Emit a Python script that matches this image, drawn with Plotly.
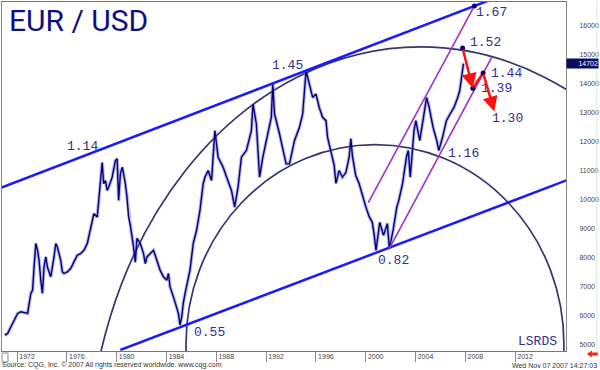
import plotly.graph_objects as go

# ---------------- data ----------------
years = [1971.02, 1971.25, 1971.51, 1971.78, 1972.05, 1972.31, 1972.58, 1972.85, 1973.11, 1973.25,
         1973.37, 1973.51, 1973.65, 1973.77, 1973.91, 1974.04, 1974.17, 1974.31, 1974.44, 1974.71,
         1974.97, 1975.11, 1975.24, 1975.37, 1975.51, 1975.64, 1975.77, 1976.04, 1976.31, 1976.57,
         1976.84, 1977.10, 1977.37, 1977.64, 1977.90, 1978.04, 1978.17, 1978.44, 1978.57, 1978.70,
         1978.84, 1978.96, 1979.10, 1979.24, 1979.36, 1979.64, 1979.90, 1980.04, 1980.16, 1980.30,
         1980.46, 1980.70, 1980.83, 1980.96, 1981.10, 1981.36, 1981.50, 1981.63, 1981.90, 1982.16,
         1982.30, 1982.43, 1982.70, 1982.96, 1983.23, 1983.49, 1983.76, 1984.03, 1984.16, 1984.29,
         1984.56, 1984.83, 1984.96, 1985.09, 1985.23, 1985.35, 1985.49, 1985.89, 1986.15, 1986.42,
         1986.69, 1986.95, 1987.09, 1987.35, 1987.62, 1987.89, 1988.15, 1988.55, 1988.82, 1989.22,
         1989.48, 1989.75, 1990.02, 1990.42, 1990.82, 1990.95, 1991.22, 1991.48, 1991.74, 1992.02,
         1992.42, 1992.54, 1992.68, 1993.08, 1993.34, 1993.61, 1993.88, 1994.28, 1994.68, 1994.94,
         1995.21, 1995.47, 1995.74, 1996.01, 1996.27, 1996.54, 1996.81, 1996.94, 1997.21, 1997.47,
         1997.61, 1997.87, 1998.13, 1998.41, 1998.67, 1998.81, 1998.93, 1999.20, 1999.47, 1999.73,
         2000.00, 2000.27, 2000.53, 2000.67, 2000.83, 2001.13, 2001.43, 2001.74, 2001.90, 2002.20,
         2002.50, 2002.66, 2002.96, 2003.27, 2003.42, 2003.58, 2003.88, 2004.03, 2004.34, 2004.64,
         2004.89, 2005.10, 2005.41, 2005.71, 2005.87, 2006.17, 2006.48, 2006.78, 2007.09, 2007.39,
         2007.55, 2007.70, 2007.85]
eurusd = [5340, 5400, 5630, 5860, 6090, 6145, 6110, 6090, 6780, 6890,
          7690, 8500, 8265, 7920, 7235, 6780, 7690, 8035, 7690, 7350,
          8035, 8495, 8380, 8150, 7920, 7520, 7465, 7520, 7635, 7865,
          8095, 8150, 8265, 8495, 9065, 9295, 9525, 9410, 9985, 10440,
          11290, 10560, 10670, 10330, 10440, 10785, 11360, 11420, 9985, 10900,
          11130, 10560, 10100, 9410, 9125, 8380, 7855, 8680, 8495, 8150,
          7810, 8035, 8150, 8265, 7920, 7580, 7350, 7235, 7465, 7005,
          6660, 6315, 6090, 5690, 5975, 6435, 6775, 7580, 8495, 8955,
          9640, 10560, 10785, 11015, 10670, 12390, 11475, 11130, 10785, 10330,
          9755, 10440, 11475, 11705, 12390, 13310, 12620, 10785, 11475, 12045,
          12850, 13995, 12965, 12275, 11705, 11245, 11245, 12045, 12505, 12965,
          14455, 13995, 13535, 13650, 13190, 12850, 12735, 12160, 11705, 11190,
          10570, 11015, 10785, 10945, 11475, 12115, 11530, 10845, 10570, 10155,
          9780, 9435, 9230, 8840, 8265, 9230, 8780, 9185, 8335, 8955,
          9755, 9985, 10560, 11475, 11705, 10785, 12390, 12735, 12045, 12850,
          13535, 13190, 12505, 12045, 11705, 12160, 12735, 12965, 13190, 13535,
          13765, 14225, 14702]
last_price = 14702

x_ticks = [1972, 1976, 1980, 1984, 1988, 1992, 1996, 2000, 2004, 2008, 2012]
x_ticklabels = ["1972", "1976", "1980", "1984", "1988", "1992", "1996", "2000", "2004", "2008", "2012"]
y_ticks = [5000, 6000, 7000, 8000, 9000, 10000, 11000, 12000, 13000, 14000, 15000, 16000]
y_ticklabels = ["5000", "6000", "7000", "8000", "9000", "10000", "11000", "12000", "13000", "14000", "15000", "16000"]

# trend channel (blue), acceleration channel (purple)
upper_trend_t = [1970.70, 2010.00]
upper_trend_v = [10419, 16897]
lower_trend_t = [1980.30, 2016.20]
lower_trend_v = [4830, 10690]
purple_upper_t = [2000.21, 2008.73]
purple_upper_v = [9905, 16688]
purple_lower_t = [2001.90, 2010.11]
purple_lower_v = [8324, 14911]

# arcs: bounding boxes (time, value) of the two ellipses
outer_arc_t = [1977.66, 2031.18]
outer_arc_v = [-13941, 15278]
inner_arc_t = [1985.57, 2015.92]
inner_arc_v = [-1841, 11910]

# projected path (red) and marked points
forecast_t = [2007.78, 2008.60, 2009.43, 2010.33]
forecast_v = [15240, 13850, 14380, 13050]
dots_t = [2008.73, 2007.78, 2008.60, 2009.43]
dots_v = [16688, 15240, 13850, 14380]

level_labels = ["1.67", "1.52", "1.44", "1.39", "1.30", "1.45", "1.14", "1.16", "0.82", "0.55", "LSRDS"]
level_t = [2008.81, 2008.31, 2009.99, 2009.19, 2010.09, 1992.42, 1975.91, 2006.52, 2000.93, 1986.11, 2012.19]
level_v = [16447, 15426, 14374, 13845, 12793, 14625, 11858, 11611, 7905, 5430, 5113]

x_range = [1970.794, 2016.086]
y_range = [4793.7, 16825.3]

NAVY = "#000080"
LABEL = "#30308a"

fig = go.Figure()

# price halo + line
fig.add_trace(go.Scatter(x=years, y=eurusd, mode="lines",
                         line=dict(color="rgba(95,95,175,0.45)", width=3.5),
                         hoverinfo="skip", showlegend=False))
fig.add_trace(go.Scatter(x=years, y=eurusd, mode="lines",
                         line=dict(color=NAVY, width=1.4), showlegend=False))

# channels
for t, v, c, w in [(upper_trend_t, upper_trend_v, "#1a1aff", 2.5),
                   (lower_trend_t, lower_trend_v, "#1a1aff", 2.5),
                   (purple_upper_t, purple_upper_v, "#a030c8", 1.6),
                   (purple_lower_t, purple_lower_v, "#a030c8", 1.6)]:
    fig.add_trace(go.Scatter(x=t, y=v, mode="lines", line=dict(color=c, width=w),
                             hoverinfo="skip", showlegend=False))

# red middle leg of projection
fig.add_trace(go.Scatter(x=forecast_t[1:3], y=forecast_v[1:3], mode="lines",
                         line=dict(color="#ff1010", width=2.5), showlegend=False))

# dots
fig.add_trace(go.Scatter(x=dots_t, y=dots_v, mode="markers",
                         marker=dict(color=NAVY, size=5), showlegend=False, cliponaxis=False))

shapes = []
for bt, bv in [(outer_arc_t, outer_arc_v), (inner_arc_t, inner_arc_v)]:
    shapes.append(dict(type="circle", xref="x", yref="y", x0=bt[0], x1=bt[1], y0=bv[0], y1=bv[1],
                       line=dict(color="#36366f", width=1.7), layer="below"))
# small square bottom-left and light right border
shapes.append(dict(type="rect", xref="paper", yref="paper", x0=0.0, x1=0.0106, y0=-0.0314, y1=-0.0057,
                   line=dict(color="#888", width=1)))
shapes.append(dict(type="line", xref="paper", yref="paper", x0=1.0547, x1=1.0547, y0=-0.02, y1=1.003,
                   line=dict(color="#d6ecd6", width=1)))
# red arrow bottom-right
shapes.append(dict(type="path", xref="paper", yref="paper",
                   path="M 1.0370 -0.0086 L 1.0459 0.0014 L 1.0459 -0.0043 L 1.0564 -0.0043 "
                        "L 1.0564 -0.0129 L 1.0459 -0.0129 L 1.0459 -0.0186 Z",
                   fillcolor="#ff2020", line=dict(width=0)))

annotations = []
for txt, t, v in zip(level_labels, level_t, level_v):
    annotations.append(dict(x=t, y=v, xref="x", yref="y", text=txt, showarrow=False,
                            xanchor="left", yanchor="middle", borderpad=0,
                            font=dict(family="Liberation Mono", size=13, color=LABEL)))
# red arrows
annotations.append(dict(x=forecast_t[1], y=forecast_v[1], ax=forecast_t[0], ay=forecast_v[0],
                        xref="x", yref="y", axref="x", ayref="y", text="", showarrow=True,
                        arrowhead=2, arrowsize=1.2, arrowwidth=2.5, arrowcolor="#ff1010", standoff=0))
annotations.append(dict(x=forecast_t[3], y=forecast_v[3], ax=forecast_t[2], ay=forecast_v[2],
                        xref="x", yref="y", axref="x", ayref="y", text="", showarrow=True,
                        arrowhead=2, arrowsize=1.2, arrowwidth=2.5, arrowcolor="#ff1010", standoff=0))
# title
annotations.append(dict(x=0.0106, y=0.9457, xref="paper", yref="paper", text="EUR / USD",
                        showarrow=False, xanchor="left", yanchor="middle", borderpad=0,
                        font=dict(family="Roboto", size=30, color="#0d0d85")))
# last price box
annotations.append(dict(x=1.0, y=last_price, xref="paper", yref="y", text=str(last_price),
                        showarrow=False, xanchor="left", yanchor="middle", borderpad=0,
                        width=31, height=9, align="right", bgcolor="#0b0b60",
                        font=dict(family="Liberation Sans", size=7, color="white")))
# footer
annotations.append(dict(x=-0.0018, y=-0.0414, xref="paper", yref="paper",
                        text="Source: CQG, Inc. © 2007 All rights reserved worldwide. www.cqg.com",
                        showarrow=False, xanchor="left", yanchor="middle", borderpad=0,
                        font=dict(family="Liberation Sans", size=7, color="#333")))
annotations.append(dict(x=1.0564, y=-0.0414, xref="paper", yref="paper",
                        text="Wed Nov 07 2007 14:27:03",
                        showarrow=False, xanchor="right", yanchor="middle", borderpad=0,
                        font=dict(family="Liberation Sans", size=7, color="#333")))

fig.update_layout(
    width=600, height=370,
    margin=dict(l=1, r=32, t=1, b=19),
    paper_bgcolor="white", plot_bgcolor="white",
    showlegend=False,
    shapes=shapes, annotations=annotations,
    xaxis=dict(range=x_range, tickvals=x_ticks, ticktext=x_ticklabels,
               ticks="outside", ticklen=10, tickcolor="#8a8a8a", tickwidth=1,
               ticklabelshift=10, ticklabelstandoff=-11,
               tickfont=dict(family="Liberation Sans", size=7, color="#444"),
               showgrid=False, zeroline=False, showline=True, mirror=True,
               linecolor="#777", linewidth=1),
    yaxis=dict(range=y_range, side="right", tickvals=y_ticks, ticktext=y_ticklabels,
               ticks="", ticklabelstandoff=11,
               tickfont=dict(family="Liberation Sans", size=7, color="#444"),
               showgrid=False, zeroline=False, showline=True, mirror=True,
               linecolor="#888", linewidth=1),
)

fig.write_html("out.html", config={"displayModeBar": False},
               post_script="document.body.style.margin='0px';document.body.style.overflow='hidden';")
